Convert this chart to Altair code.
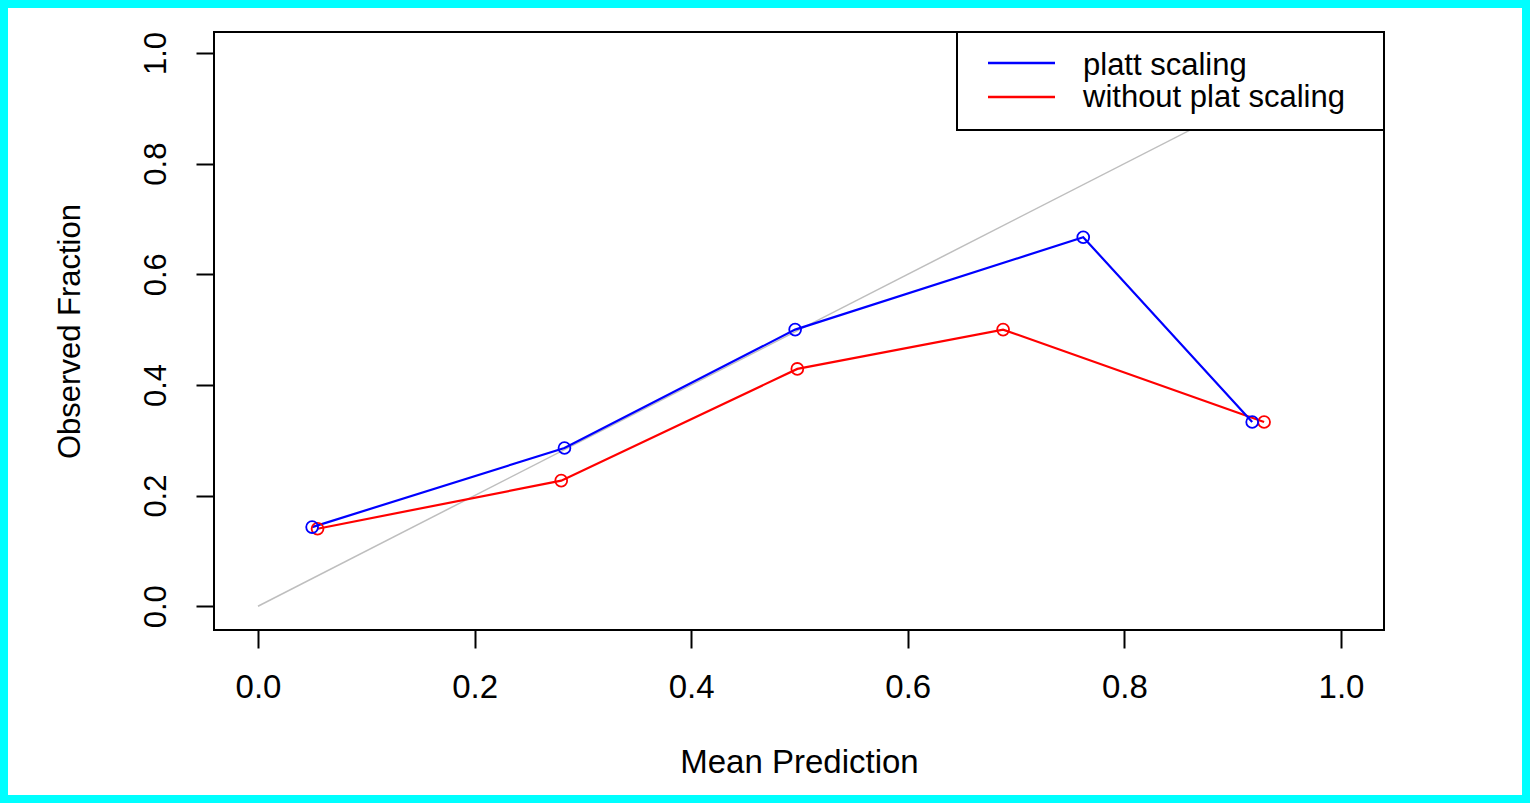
import altair as alt
import pandas as pd

# ---- data ----
series_names = ["platt scaling", "without plat scaling"]
series_colors = ["#0000FF", "#FF0000"]

platt_x = [0.050, 0.283, 0.496, 0.762, 0.918]
platt_y = [0.143, 0.286, 0.500, 0.667, 0.333]

raw_x = [0.055, 0.280, 0.498, 0.688, 0.929]
raw_y = [0.140, 0.227, 0.429, 0.500, 0.333]

diag_x = [0.0, 1.0]
diag_y = [0.0, 1.0]

tick_values = [0.0, 0.2, 0.4, 0.6, 0.8, 1.0]

# ---- tables ----
df = pd.concat([
    pd.DataFrame({"series": series_names[1], "x": raw_x, "y": raw_y, "ord": 0}),
    pd.DataFrame({"series": series_names[0], "x": platt_x, "y": platt_y, "ord": 1}),
])
diag = pd.DataFrame({"x": diag_x, "y": diag_y})

W, H = 1170, 598
FONT = "Liberation Sans"

xs = alt.Scale(domain=[-0.0406, 1.0397], nice=False, zero=False)
ys = alt.Scale(domain=[-0.043, 1.038], nice=False, zero=False)
cs = alt.Scale(domain=series_names, range=series_colors)

xaxis = alt.Axis(values=tick_values, format=".1f", title="Mean Prediction",
                 grid=False, domain=False, tickSize=18, tickWidth=2, tickColor="black",
                 labelFontSize=33, labelFont=FONT, labelColor="black",
                 labelBaseline="alphabetic", labelPadding=49,
                 titleFontSize=33, titleFont=FONT, titleFontWeight="normal", titleColor="black",
                 titleBaseline="alphabetic", titleY=142, titleX=W / 2, titleAnchor="middle")
yaxis = alt.Axis(values=tick_values, format=".1f", title="Observed Fraction",
                 grid=False, domain=False, tickSize=18, tickWidth=2, tickColor="black",
                 labelFontSize=31, labelFont=FONT, labelColor="black", labelAngle=270,
                 labelAlign="center", labelBaseline="alphabetic", labelPadding=31,
                 titleFontSize=31, titleFont=FONT, titleFontWeight="normal", titleColor="black",
                 titleAngle=270, titleAlign="center", titleBaseline="middle",
                 titleX=-144, titleY=H / 2)

base_enc = dict(
    x=alt.X("x:Q", scale=xs, axis=xaxis),
    y=alt.Y("y:Q", scale=ys, axis=yaxis),
)

diag_line = alt.Chart(diag).mark_line(color="#bebebe", strokeWidth=1.5, clip=True).encode(**base_enc)

lines = alt.Chart(df).mark_line(strokeWidth=2.2, clip=True).encode(
    x=alt.X("x:Q", scale=xs), y=alt.Y("y:Q", scale=ys),
    color=alt.Color("series:N", scale=cs, legend=None),
    detail="series:N",
)
points = alt.Chart(df).mark_point(shape="circle", filled=False, size=140, strokeWidth=1.8,
                                  opacity=1, clip=True).encode(
    x=alt.X("x:Q", scale=xs), y=alt.Y("y:Q", scale=ys),
    color=alt.Color("series:N", scale=cs, legend=None),
    order=alt.Order("ord:Q"),
)

# ---- manual R-style legend ----
one = pd.DataFrame({"k": [0]})
leg_box = alt.Chart(one).mark_rect(fill="white", stroke="black", strokeWidth=2).encode(
    x=alt.value(743), x2=alt.value(W), y=alt.value(0), y2=alt.value(98))
leg_layers = [leg_box]
for i, (name, col) in enumerate(zip(series_names, series_colors)):
    ly = [31, 65][i]
    ty = [43, 75][i]
    leg_layers.append(alt.Chart(one).mark_rule(color=col, strokeWidth=2.5).encode(
        x=alt.value(774), x2=alt.value(841), y=alt.value(ly)))
    leg_layers.append(alt.Chart(one).mark_text(align="left", baseline="alphabetic",
                                               fontSize=31, font=FONT, color="black").encode(
        x=alt.value(869), y=alt.value(ty), text=alt.value(name)))

# plot box on top
box = alt.Chart(one).mark_rect(filled=False, stroke="black", strokeWidth=2).encode(
    x=alt.value(0), x2=alt.value(W), y=alt.value(0), y2=alt.value(H))

# cyan outer frame
frame = alt.Chart(one).mark_rect(filled=False, stroke="#00FFFF", strokeWidth=16).encode(
    x=alt.value(-214), x2=alt.value(1530 - 214), y=alt.value(-32), y2=alt.value(803 - 32))

chart = alt.layer(diag_line, lines, points, *leg_layers, box, frame).properties(
    width=W, height=H,
    autosize=alt.AutoSizeParams(type="none"),
    padding={"left": 214, "top": 32, "right": 146, "bottom": 173},
    background="white",
).configure_view(stroke=None).configure_axis(zindex=1)

chart.save("out.html", embed_options={"renderer": "svg", "actions": False})
